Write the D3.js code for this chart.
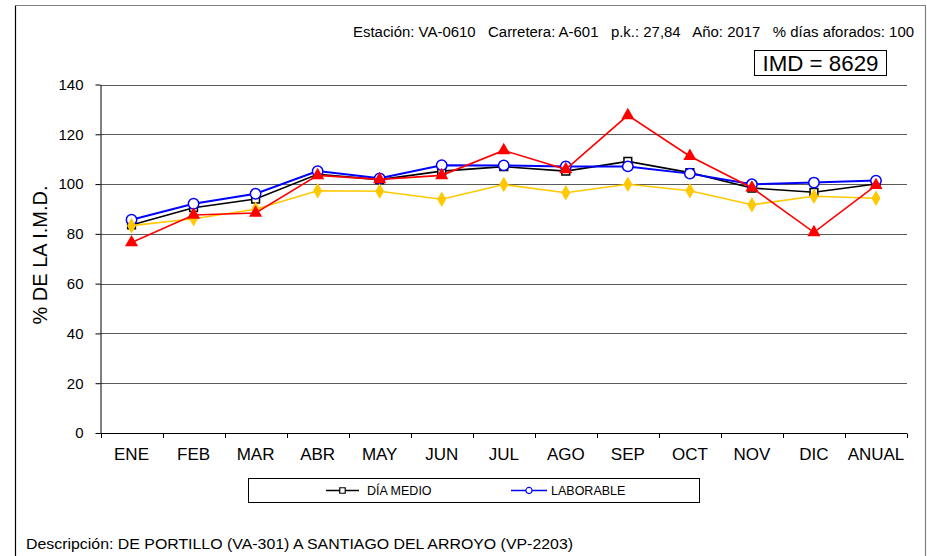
<!DOCTYPE html>
<html>
<head>
<meta charset="utf-8">
<script src="https://cdn.jsdelivr.net/npm/d3@7"></script>
<style>
  html, body { margin: 0; padding: 0; background: #fff; }
  svg { display: block; font-family: "Liberation Sans", Arial, sans-serif; }
</style>
</head>
<body>
<svg id="chart" width="927" height="556"></svg>
<script>
// Monthly traffic as % of the annual average daily traffic (IMD)
const months = ["ENE", "FEB", "MAR", "ABR", "MAY", "JUN", "JUL", "AGO", "SEP", "OCT", "NOV", "DIC", "ANUAL"];
const diaMedio   = [83.6, 90.5, 94.0, 103.9, 101.8, 105.2, 107.0, 105.2, 109.1, 104.6, 98.4, 96.7, 100.0];
const laborable  = [85.7, 92.1, 96.1, 105.2, 102.3, 107.6, 107.5, 107.1, 107.1, 104.2, 99.9, 100.6, 101.4];
const sabado     = [83.3, 86.1, 89.9, 97.3, 97.1, 93.9, 99.8, 96.5, 99.9, 97.3, 91.7, 95.1, 94.3];
const domingo    = [76.5, 87.6, 88.4, 103.5, 101.9, 103.5, 113.5, 105.9, 127.6, 111.2, 98.5, 80.6, 99.5];
const yTicks     = [0, 20, 40, 60, 80, 100, 120, 140];

const headerText = "Estación: VA-0610   Carretera: A-601   p.k.: 27,84   Año: 2017   % días aforados: 100";
const imdText = "IMD = 8629";
const descText = "Descripción: DE PORTILLO (VA-301) A SANTIAGO DEL ARROYO (VP-2203)";

const svg = d3.select("#chart");

// outer frame
svg.append("line").attr("x1", 15.5).attr("x2", 15.5).attr("y1", 5.5).attr("y2", 556)
  .attr("stroke", "#000").attr("stroke-width", 1.2);
svg.append("line").attr("x1", 15.5).attr("x2", 926).attr("y1", 5.5).attr("y2", 5.5)
  .attr("stroke", "#808080").attr("stroke-width", 1.2);
svg.append("line").attr("x1", 925.5).attr("x2", 925.5).attr("y1", 5.5).attr("y2", 556)
  .attr("stroke", "#808080").attr("stroke-width", 1.2);

// header
svg.append("text").attr("x", 353).attr("y", 37)
  .attr("font-size", 14).attr("fill", "#000").attr("xml:space", "preserve")
  .attr("textLength", 561).attr("lengthAdjust", "spacingAndGlyphs")
  .style("white-space", "pre").text(headerText);

svg.append("rect").attr("x", 754.5).attr("y", 50.5).attr("width", 132).attr("height", 25)
  .attr("fill", "#fff").attr("stroke", "#000").attr("stroke-width", 1);
svg.append("text").attr("x", 762.5).attr("y", 70.5)
  .attr("font-size", 22).attr("fill", "#000")
  .attr("textLength", 116).attr("lengthAdjust", "spacingAndGlyphs").text(imdText);

// scales
const x = d3.scaleBand().domain(months).range([100.5, 907]).padding(0);
const y = d3.scaleLinear().domain([0, 140]).range([433, 84.5]);

// grid lines
svg.append("g").selectAll("line").data(yTicks.filter(d => d > 0)).join("line")
  .attr("x1", 100.5).attr("x2", 907)
  .attr("y1", d => Math.round(y(d)) + 0.5).attr("y2", d => Math.round(y(d)) + 0.5)
  .attr("stroke", "#5a5a5a").attr("stroke-width", 1);

// y axis
const yAxis = svg.append("g").attr("transform", "translate(100.5,0)")
  .call(d3.axisLeft(y).tickValues(yTicks).tickSize(5).tickPadding(12).tickSizeOuter(0));
yAxis.selectAll("text").attr("font-size", 15).attr("fill", "#000").attr("font-family", "Liberation Sans, Arial, sans-serif");
yAxis.selectAll("line").attr("stroke", "#000");
yAxis.select(".domain").attr("stroke", "#000");

// x axis: baseline, boundary ticks and centred labels
const xAxis = svg.append("g").attr("transform", "translate(0,433.5)");
xAxis.append("line").attr("x1", 100.5).attr("x2", 907).attr("y1", 0).attr("y2", 0).attr("stroke", "#000");
const bounds = months.map(m => x(m)).concat([x.range()[1]]);
xAxis.selectAll("line.tick").data(bounds).join("line").attr("class", "tick")
  .attr("x1", d => Math.round(d) + 0.5).attr("x2", d => Math.round(d) + 0.5)
  .attr("y1", 0).attr("y2", 4.5).attr("stroke", "#000");
xAxis.selectAll("text").data(months).join("text")
  .attr("x", d => x(d) + x.bandwidth() / 2).attr("y", 26.5)
  .attr("text-anchor", "middle").attr("font-size", 17).attr("fill", "#000").text(d => d);

// y title
svg.append("text").attr("transform", "translate(47,255) rotate(-90)")
  .attr("text-anchor", "middle").attr("font-size", 20).attr("fill", "#000").text("% DE LA I.M.D.");

// series
const cx = (d, i) => x(months[i]) + x.bandwidth() / 2;
const line = d3.line().x((d, i) => cx(d, i)).y(d => y(d));

function drawSeries(values, color, width, symbolType, size, fill) {
  const g = svg.append("g");
  g.append("path").datum(values).attr("d", line)
    .attr("fill", "none").attr("stroke", color).attr("stroke-width", width);
  g.selectAll("path.m").data(values).join("path").attr("class", "m")
    .attr("transform", (d, i) => `translate(${cx(d, i)},${y(d)})`)
    .attr("d", d3.symbol().type(symbolType).size(size))
    .attr("fill", fill).attr("stroke", fill === "#fff" ? color : "none").attr("stroke-width", 1.5);
}

drawSeries(diaMedio, "#000", 1.6, d3.symbolSquare, 60, "#fff");
drawSeries(laborable, "#0000ff", 2, d3.symbolCircle, 85, "#fff");
drawSeries(sabado, "#ffc800", 1.6, d3.symbolDiamond, 70, "#ffc800");
drawSeries(domingo, "#ff0000", 1.6, d3.symbolTriangle, 75, "#ff0000");

// legend
const lg = svg.append("g");
lg.append("rect").attr("x", 248.5).attr("y", 478.5).attr("width", 451).attr("height", 24)
  .attr("fill", "#fff").attr("stroke", "#000").attr("stroke-width", 1);
const legendItems = [
  { label: "DÍA MEDIO", color: "#000", x0: 326, x1: 359, sym: d3.symbolSquare, size: 30, tx: 367 },
  { label: "LABORABLE", color: "#0000ff", x0: 511, x1: 547, sym: d3.symbolCircle, size: 30, tx: 551 }
];
legendItems.forEach(it => {
  lg.append("line").attr("x1", it.x0).attr("x2", it.x1).attr("y1", 490.5).attr("y2", 490.5)
    .attr("stroke", it.color).attr("stroke-width", 1.5);
  lg.append("path").attr("transform", `translate(${(it.x0 + it.x1) / 2},490.5)`)
    .attr("d", d3.symbol().type(it.sym).size(it.size))
    .attr("fill", "#fff").attr("stroke", it.color).attr("stroke-width", 1.2);
  lg.append("text").attr("x", it.tx).attr("y", 495).attr("font-size", 12.5).attr("fill", "#000").text(it.label);
});

// description
svg.append("text").attr("x", 26).attr("y", 549).attr("font-size", 14)
  .attr("textLength", 547).attr("lengthAdjust", "spacingAndGlyphs")
  .attr("fill", "#000").text(descText);
</script>
</body>
</html>
